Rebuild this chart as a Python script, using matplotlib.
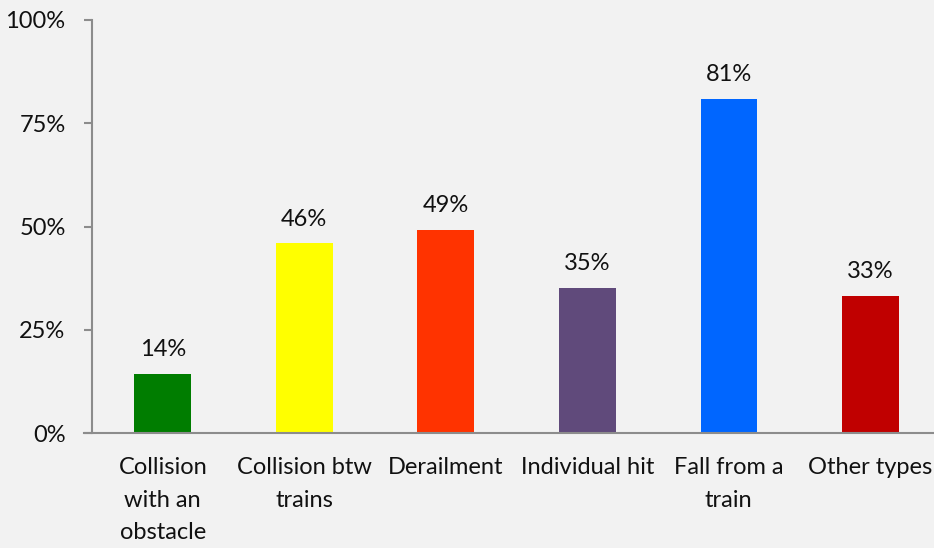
import matplotlib
matplotlib.use("Agg")
import matplotlib.pyplot as plt
from matplotlib.ticker import FuncFormatter

categories = ["Collision\nwith an\nobstacle", "Collision btw\ntrains", "Derailment",
              "Individual hit", "Fall from a\ntrain", "Other types"]
values = [14.3, 45.9, 49.1, 35.1, 80.9, 33.2]
labels = ["14%", "46%", "49%", "35%", "81%", "33%"]
colors = ["#007d00", "#ffff00", "#ff3300", "#604a7b", "#0066ff", "#c00000"]

plt.rcParams["font.family"] = ["Lato", "DejaVu Sans"]

fig = plt.figure(figsize=(9.34, 5.48), dpi=100, facecolor="#f2f2f2")
ax = fig.add_axes([92/934, 1 - 433/548, 1 - 92/934, 413/548])
ax.set_facecolor("#f2f2f2")

x = range(len(categories))
bars = ax.bar(x, values, width=0.4, color=colors)
for b, lab in zip(bars, labels):
    ax.annotate(lab, (b.get_x() + b.get_width() / 2, b.get_height()),
                xytext=(0, 10), textcoords="offset points",
                ha="center", va="bottom", fontsize=17, color="#111111")

xmin, xmax = -0.5, 5.45
ax.set_xlim(xmin, xmax)
ax.set_ylim(0, 100)
ax.set_yticks([0, 25, 50, 75, 100])
ax.yaxis.set_major_formatter(FuncFormatter(lambda v, p: f"{v:.0f}%"))
ax.set_xticks(list(x))
ax.set_xticklabels(categories, fontsize=17, color="#111111", linespacing=1.7,
                   va="top")
ax.tick_params(axis="x", length=0, pad=17)
ax.tick_params(axis="y", length=6, width=1.5, color="#8c8c8c", labelsize=17,
               labelcolor="#111111", pad=13)

for s in ["top", "right"]:
    ax.spines[s].set_visible(False)
for s in ["left", "bottom"]:
    ax.spines[s].set_color("#8c8c8c")
    ax.spines[s].set_linewidth(1.5)
ax.spines["bottom"].set_bounds(xmin - 8 / 141.4, xmax)
ax.spines["bottom"].set_clip_on(False)

fig.savefig("out.png", dpi=100, facecolor=fig.get_facecolor())
